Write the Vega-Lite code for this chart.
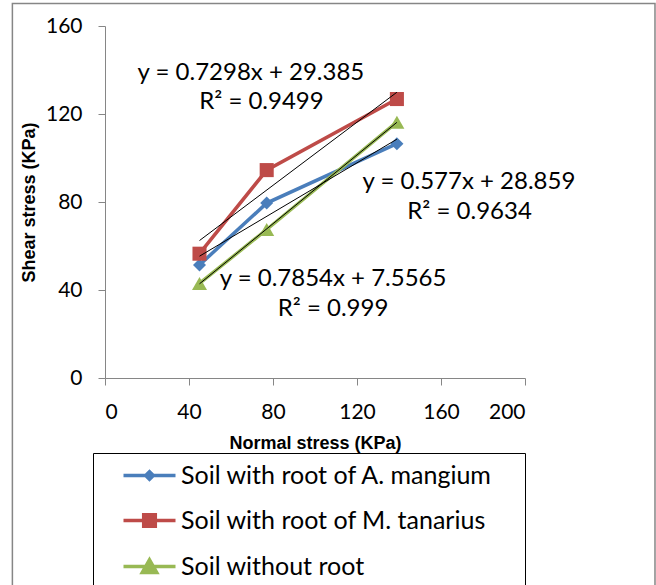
{
  "$schema": "https://vega.github.io/schema/vega-lite/v6.json",
  "width": 420,
  "height": 352,
  "autosize": {"type": "none"},
  "padding": {"left": 105, "top": 26, "right": 131, "bottom": 207},
  "background": "white",
  "config": {"view": {"stroke": null}, "font": "Lato"},
  "datasets": {
    "points": [
      {"series": "Soil with root of A. mangium", "normal": 45, "shear": 51.4},
      {"series": "Soil with root of A. mangium", "normal": 77, "shear": 79.5},
      {"series": "Soil with root of A. mangium", "normal": 139, "shear": 106.5},
      {"series": "Soil with root of M. tanarius", "normal": 45, "shear": 56.5},
      {"series": "Soil with root of M. tanarius", "normal": 77, "shear": 94.5},
      {"series": "Soil with root of M. tanarius", "normal": 139, "shear": 126.8},
      {"series": "Soil without root", "normal": 45, "shear": 43},
      {"series": "Soil without root", "normal": 77, "shear": 67.5},
      {"series": "Soil without root", "normal": 139, "shear": 116.3}
    ],
    "labels": [
      {"tx": 69.5, "ty": 138.6, "text": "y = 0.7298x + 29.385"},
      {"tx": 74.5, "ty": 125.5, "text": "R² = 0.9499"},
      {"tx": 173.3, "ty": 89.1, "text": "y = 0.577x + 28.859"},
      {"tx": 173.6, "ty": 75.5, "text": "R² = 0.9634"},
      {"tx": 108.6, "ty": 45, "text": "y = 0.7854x + 7.5565"},
      {"tx": 108.6, "ty": 31.4, "text": "R² = 0.999"}
    ],
    "frame": [{"x1": -44.1, "x2": 261.9, "y1": 170.2, "y2": -110}]
  },
  "layer": [
    {
      "data": {"name": "frame"},
      "mark": {"type": "rect", "fill": null, "stroke": "#868686", "strokeWidth": 1.5},
      "encoding": {
        "x": {"field": "x1", "type": "quantitative", "scale": {"domain": [0, 200], "nice": false}},
        "x2": {"field": "x2"},
        "y": {"field": "y1", "type": "quantitative", "scale": {"domain": [0, 160], "nice": false}},
        "y2": {"field": "y2"}
      }
    },
    {
      "data": {"name": "points"},
      "mark": {"type": "line", "strokeWidth": 3.5},
      "encoding": {
        "x": {
          "field": "normal", "type": "quantitative",
          "scale": {"domain": [0, 200], "nice": false},
          "axis": {
            "values": [0, 40, 80, 120, 160, 200], "grid": false,
            "domainColor": "#868686", "tickColor": "#868686", "tickSize": 7,
            "labelFont": "Lato", "labelFontSize": 21, "labelColor": "black", "labelPadding": 16,
            "title": "Normal stress (KPa)", "titleFont": "Liberation Sans", "titleFontWeight": "bold",
            "titleFontSize": 18, "titleColor": "black", "titlePadding": 12
          }
        },
        "y": {
          "field": "shear", "type": "quantitative",
          "scale": {"domain": [0, 160], "nice": false},
          "axis": {
            "values": [0, 40, 80, 120, 160], "grid": false,
            "domainColor": "#868686", "tickColor": "#868686", "tickSize": 7,
            "labelFont": "Lato", "labelFontSize": 21, "labelColor": "black", "labelPadding": 16,
            "title": "Shear stress (KPa)", "titleFont": "Liberation Sans", "titleFontWeight": "bold",
            "titleFontSize": 18, "titleColor": "black", "titlePadding": 7
          }
        },
        "color": {
          "field": "series", "type": "nominal",
          "scale": {
            "domain": ["Soil with root of A. mangium", "Soil with root of M. tanarius", "Soil without root"],
            "range": ["#4a7ebb", "#be4b48", "#98b954"]
          },
          "legend": {
            "title": null,
            "orient": "none", "legendX": -12, "legendY": 427,
            "strokeColor": "black", "padding": 10,
            "labelFont": "Lato", "labelFontSize": 25, "labelColor": "black", "labelOffset": 19,
            "symbolSize": 400, "symbolStrokeWidth": 3.5, "rowPadding": 18, "symbolOffset": 34,
            "labelLimit": 500,
            "encode": {
              "symbols": {
                "update": {
                  "shape": {"signal": "datum.value === 'Soil with root of A. mangium' ? 'M35.8,0M-2.6,0H2.6M0,-0.38L0.38,0L0,0.38L-0.38,0Z' : datum.value === 'Soil with root of M. tanarius' ? 'M35.8,0M-2.6,0H2.6M-0.58,-0.58H0.58V0.58H-0.58Z' : 'M35.8,0M-2.6,0H2.6M0,-0.66L0.72,0.6H-0.72Z'"},
                  "fill": {"scale": "color", "field": "value"},
                  "stroke": {"scale": "color", "field": "value"},
                  "opacity": {"value": 1}
                }
              }
            }
          }
        }
      }
    },
    {
      "data": {"name": "points"},
      "mark": {"type": "point", "filled": true, "opacity": 1},
      "encoding": {
        "x": {"field": "normal", "type": "quantitative"},
        "y": {"field": "shear", "type": "quantitative"},
        "color": {"field": "series", "type": "nominal"},
        "shape": {
          "field": "series", "type": "nominal",
          "scale": {"range": ["diamond", "square", "triangle-up"]},
          "legend": null
        },
        "size": {
          "field": "series", "type": "nominal",
          "scale": {"range": [170, 225, 380]},
          "legend": null
        }
      }
    },
    {
      "data": {"name": "points"},
      "transform": [{"regression": "shear", "on": "normal", "groupby": ["series"]}],
      "mark": {"type": "line", "color": "black", "strokeWidth": 1},
      "encoding": {
        "x": {"field": "normal", "type": "quantitative"},
        "y": {"field": "shear", "type": "quantitative"},
        "detail": {"field": "series", "type": "nominal"}
      }
    },
    {
      "data": {"name": "labels"},
      "mark": {"type": "text", "font": "Lato", "fontSize": 24, "color": "black", "align": "center", "baseline": "middle"},
      "encoding": {
        "x": {"field": "tx", "type": "quantitative"},
        "y": {"field": "ty", "type": "quantitative"},
        "text": {"field": "text", "type": "nominal"}
      }
    }
  ]
}
